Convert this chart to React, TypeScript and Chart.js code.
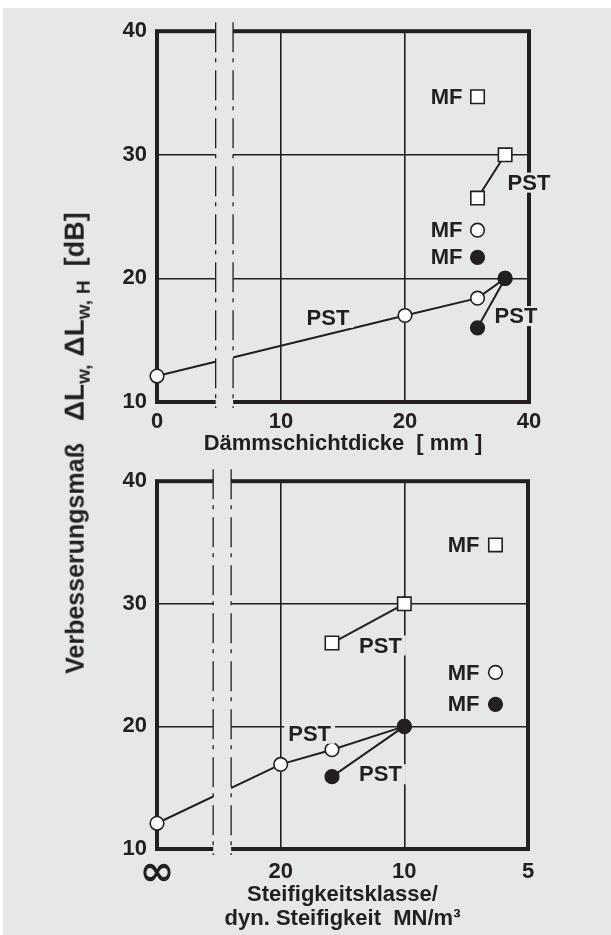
import React, { useEffect, useRef } from 'react';
import { Chart, registerables } from 'chart.js';

Chart.register(...registerables);

const INK = '#231f20';
const BG = '#e6e7e8';
const FONT = '"Liberation Sans", Arial, Helvetica, sans-serif';

// ---------- shared y axis ----------
const yTicks = [10, 20, 30, 40];

// ---------- top chart: Dämmschichtdicke [mm] ----------
const thicknessTicks = [0, 10, 20, 40];
const thicknessTickLabels = ['0', '10', '20', '40'];
const thickPstOpenX = [0, 20, 30, 35];
const thickPstOpenY = [12.1, 17, 18.4, 20];
const thickPstFilledX = [30, 35];
const thickPstFilledY = [16, 20];
const thickPstSquareX = [30, 35];
const thickPstSquareY = [26.5, 30];
const thickMfX = [30];
const thickMfSquareY = [34.7];
const thickMfOpenY = [23.9];
const thickMfFilledY = [21.7];

// ---------- bottom chart: Steifigkeitsklasse / dyn. Steifigkeit MN/m³ ----------
const stiffTicks = [Infinity, 20, 10, 5];
const stiffTickLabels = ['∞', '20', '10', '5'];
const stiffPstOpenX = [Infinity, 20, 15, 10];
const stiffPstOpenY = [12.1, 16.9, 18.1, 20];
const stiffPstFilledX = [15, 10];
const stiffPstFilledY = [15.9, 20];
const stiffPstSquareX = [15, 10];
const stiffPstSquareY = [26.8, 30];
const stiffMfX = [6];
const stiffMfSquareY = [34.8];
const stiffMfOpenY = [24.4];
const stiffMfFilledY = [21.8];

// axis position helpers for the broken logarithmic axes
const thickPos = (mm: number) => (mm === 0 ? 5 : mm); // "0" sits at the broken axis origin
const stiffPos = (s: number) => (isFinite(s) ? s : 40); // "∞" sits at the broken axis origin

type Label = { text: string; x: number; y: number; dx?: number; align?: 'right' | 'center' };

type Cfg = {
  pos: (v: number) => number;
  tickValues: number[];
  tickLabels: string[];
  reverse: boolean;
  tickPad: number;
  title: string | string[];
  titlePadBottom: number;
  open: [number[], number[]];
  filled: [number[], number[]];
  square: [number[], number[]];
  mfX: number[];
  mfSquare: number[];
  mfOpen: number[];
  mfFilled: number[];
  labels: Label[];
  breakAt: [number, number];
  breakExt: [number, number];
  yAxisWidth: number;
  xAxisHeight: number;
  padTop: number;
  padRight: number;
};

const pts = (pos: (v: number) => number, xs: number[], ys: number[]) =>
  xs.map((x, i) => ({ x: pos(x), y: ys[i] }));

function buildChart(canvas: HTMLCanvasElement, cfg: Cfg) {
  const base = {
    borderColor: INK,
    borderWidth: 2,
    pointBorderColor: INK,
    pointBorderWidth: 1.6,
    pointHoverRadius: 0,
    clip: false as const,
  };
  const openStyle = { ...base, pointStyle: 'circle', pointRadius: 6.8, pointBackgroundColor: '#ffffff' };
  const filledStyle = { ...base, pointStyle: 'circle', pointRadius: 6.8, pointBackgroundColor: INK };
  const squareStyle = { ...base, pointStyle: 'rect', pointRadius: 9.5, pointBackgroundColor: '#ffffff' };

  const datasets: any[] = [
    { ...filledStyle, label: 'PST ●', data: pts(cfg.pos, cfg.filled[0], cfg.filled[1]), showLine: true, order: 0 },
    { ...openStyle, label: 'PST ○', data: pts(cfg.pos, cfg.open[0], cfg.open[1]), showLine: true, order: 1 },
    { ...squareStyle, label: 'PST □', data: pts(cfg.pos, cfg.square[0], cfg.square[1]), showLine: true, order: 1 },
    { ...squareStyle, label: 'MF □', data: pts(cfg.pos, cfg.mfX, cfg.mfSquare), showLine: false, order: 1 },
    { ...openStyle, label: 'MF ○', data: pts(cfg.pos, cfg.mfX, cfg.mfOpen), showLine: false, order: 1 },
    { ...filledStyle, label: 'MF ●', data: pts(cfg.pos, cfg.mfX, cfg.mfFilled), showLine: false, order: 1 },
  ];

  const deco = {
    id: 'deco',
    beforeDatasetsDraw(chart: any) {
      const { ctx, chartArea: a } = chart;
      ctx.save();
      ctx.strokeStyle = INK;
      ctx.lineWidth = 4;
      ctx.strokeRect(a.left, a.top, a.right - a.left, a.bottom - a.top);
      ctx.restore();
    },
    afterDatasetsDraw(chart: any) {
      const { ctx, chartArea: a, scales } = chart;
      const xs = scales.x;
      const ys = scales.y;
      const p1 = xs.getPixelForValue(cfg.breakAt[0]);
      const p2 = xs.getPixelForValue(cfg.breakAt[1]);
      const l = Math.min(p1, p2);
      const r = Math.max(p1, p2);
      ctx.save();
      ctx.fillStyle = BG;
      ctx.fillRect(l, a.top - 5, r - l, a.bottom - a.top + 10);
      ctx.strokeStyle = INK;
      ctx.lineWidth = 1.3;
      ctx.setLineDash([30, 6, 4, 8]);
      for (const px of [l, r]) {
        ctx.beginPath();
        ctx.moveTo(px, a.top - cfg.breakExt[0]);
        ctx.lineTo(px, a.bottom + cfg.breakExt[1]);
        ctx.stroke();
      }
      ctx.setLineDash([]);
      ctx.font = `bold 22px ${FONT}`;
      ctx.textBaseline = 'middle';
      ctx.textAlign = 'left';
      for (const lb of cfg.labels) {
        const px = xs.getPixelForValue(cfg.pos(lb.x)) + (lb.dx || 0);
        const py = ys.getPixelForValue(lb.y);
        const w = ctx.measureText(lb.text).width;
        const left = lb.align === 'right' ? px - w : px - w / 2;
        ctx.fillStyle = BG;
        ctx.fillRect(left - 4, py - 10, w + 8, 20);
        ctx.fillStyle = INK;
        ctx.fillText(lb.text, left, py + 1);
      }
      ctx.restore();
    },
  };

  return new Chart(canvas, {
    type: 'line',
    data: { datasets },
    plugins: [deco],
    options: {
      animation: false,
      responsive: true,
      maintainAspectRatio: false,
      events: [],
      layout: { padding: { top: cfg.padTop, right: cfg.padRight, left: 0, bottom: 0 } },
      plugins: { legend: { display: false }, tooltip: { enabled: false }, title: { display: false } },
      scales: {
        x: {
          type: 'logarithmic',
          min: 5,
          max: 40,
          reverse: cfg.reverse,
          afterBuildTicks: (s: any) => {
            s.ticks = cfg.tickValues.map((v) => ({ value: cfg.pos(v) }));
          },
          afterFit: (s: any) => {
            s.height = cfg.xAxisHeight;
          },
          grid: { color: INK, lineWidth: 1.6, drawTicks: false },
          border: { display: false },
          ticks: {
            autoSkip: false,
            maxRotation: 0,
            padding: cfg.tickPad,
            color: INK,
            callback: (_v: any, i: number) => cfg.tickLabels[i],
            font: (c: any) =>
              cfg.tickLabels[c.index] === '∞'
                ? { family: '"DejaVu Sans", sans-serif', weight: 'bold', size: 42, lineHeight: 30 / 42 }
                : { family: FONT, weight: 'bold', size: 22, lineHeight: 1.2 },
          },
          title: {
            display: true,
            text: cfg.title,
            color: INK,
            font: { family: FONT, weight: 'bold', size: 22, lineHeight: 1.1 },
            padding: { top: 0, bottom: cfg.titlePadBottom },
          },
        },
        y: {
          type: 'linear',
          min: 10,
          max: 40,
          afterBuildTicks: (s: any) => {
            s.ticks = yTicks.map((v) => ({ value: v }));
          },
          afterFit: (s: any) => {
            s.width = cfg.yAxisWidth;
          },
          grid: { color: INK, lineWidth: 1.6, drawTicks: false },
          border: { display: false },
          ticks: {
            padding: 10,
            color: INK,
            font: { family: FONT, weight: 'bold', size: 22, lineHeight: 1.2 },
          },
        },
      },
    } as any,
  });
}

const topCfg: Cfg = {
  pos: thickPos,
  tickValues: thicknessTicks,
  tickLabels: thicknessTickLabels,
  reverse: false,
  tickPad: 7,
  title: 'Dämmschichtdicke  [ mm ]',
  titlePadBottom: 2,
  open: [thickPstOpenX, thickPstOpenY],
  filled: [thickPstFilledX, thickPstFilledY],
  square: [thickPstSquareX, thickPstSquareY],
  mfX: thickMfX,
  mfSquare: thickMfSquareY,
  mfOpen: thickMfOpenY,
  mfFilled: thickMfFilledY,
  labels: [
    { text: 'MF', x: 30, y: 34.7, dx: -15, align: 'right' },
    { text: 'MF', x: 30, y: 23.9, dx: -15, align: 'right' },
    { text: 'MF', x: 30, y: 21.7, dx: -15, align: 'right' },
    { text: 'PST', x: 40, y: 27.75 },
    { text: 'PST', x: 37.2, y: 16.95 },
    { text: 'PST', x: 13, y: 16.8 },
  ],
  breakAt: [6.94, 7.65],
  breakExt: [9, 6],
  yAxisWidth: 67,
  xAxisHeight: 56,
  padTop: 23,
  padRight: 82,
};

const bottomCfg: Cfg = {
  pos: stiffPos,
  tickValues: stiffTicks,
  tickLabels: stiffTickLabels,
  reverse: true,
  tickPad: 10,
  title: ['Steifigkeitsklasse/', 'dyn. Steifigkeit  MN/m³'],
  titlePadBottom: 4,
  open: [stiffPstOpenX, stiffPstOpenY],
  filled: [stiffPstFilledX, stiffPstFilledY],
  square: [stiffPstSquareX, stiffPstSquareY],
  mfX: stiffMfX,
  mfSquare: stiffMfSquareY,
  mfOpen: stiffMfOpenY,
  mfFilled: stiffMfFilledY,
  labels: [
    { text: 'MF', x: 6, y: 34.8, dx: -16, align: 'right' },
    { text: 'MF', x: 6, y: 24.4, dx: -16, align: 'right' },
    { text: 'MF', x: 6, y: 21.8, dx: -16, align: 'right' },
    { text: 'PST', x: 11.43, y: 26.6 },
    { text: 'PST', x: 17.0, y: 19.4 },
    { text: 'PST', x: 11.43, y: 16.1 },
  ],
  breakAt: [29.2, 26.4],
  breakExt: [12, 6],
  yAxisWidth: 67,
  xAxisHeight: 86,
  padTop: 19,
  padRight: 83,
};

function ChartBox({ cfg, style }: { cfg: Cfg; style: React.CSSProperties }) {
  const ref = useRef<HTMLCanvasElement | null>(null);
  useEffect(() => {
    if (!ref.current) return;
    const chart = buildChart(ref.current, cfg);
    return () => chart.destroy();
  }, [cfg]);
  return (
    <div style={{ position: 'absolute', ...style }}>
      <canvas ref={ref} />
    </div>
  );
}

export default function App() {
  const big: React.CSSProperties = { fontSize: 28 };
  const sub: React.CSSProperties = { fontSize: 19, verticalAlign: '-0.3em', lineHeight: 0 };
  const gap = (w: number): React.CSSProperties => ({ display: 'inline-block', width: w });
  return (
    <div style={{ position: 'fixed', left: 0, top: 0, width: 611, height: 935, background: '#ffffff', overflow: 'hidden' }}>
      <div style={{ position: 'absolute', left: 3, top: 8, width: 608, height: 927, background: BG }} />
      <ChartBox cfg={topCfg} style={{ left: 90, top: 8, width: 521, height: 450 }} />
      <ChartBox cfg={bottomCfg} style={{ left: 90, top: 458, width: 521, height: 477 }} />
      <div
        style={{
          position: 'absolute',
          left: 75,
          top: 443,
          transform: 'translate(-50%, -50%) rotate(-90deg)',
          whiteSpace: 'nowrap',
          fontFamily: FONT,
          fontWeight: 'bold',
          fontSize: 25,
          color: INK,
          lineHeight: 1,
        }}
      >
        Verbesserungsmaß<span style={gap(22)} />
        <span style={big}>ΔL</span>
        <span style={sub}>w,</span>
        <span style={gap(8)} />
        <span style={big}>ΔL</span>
        <span style={sub}>
          w,<span style={gap(6)} />H
        </span>
        <span style={gap(14)} />
        <span style={{ fontSize: 27 }}>[dB]</span>
      </div>
    </div>
  );
}
